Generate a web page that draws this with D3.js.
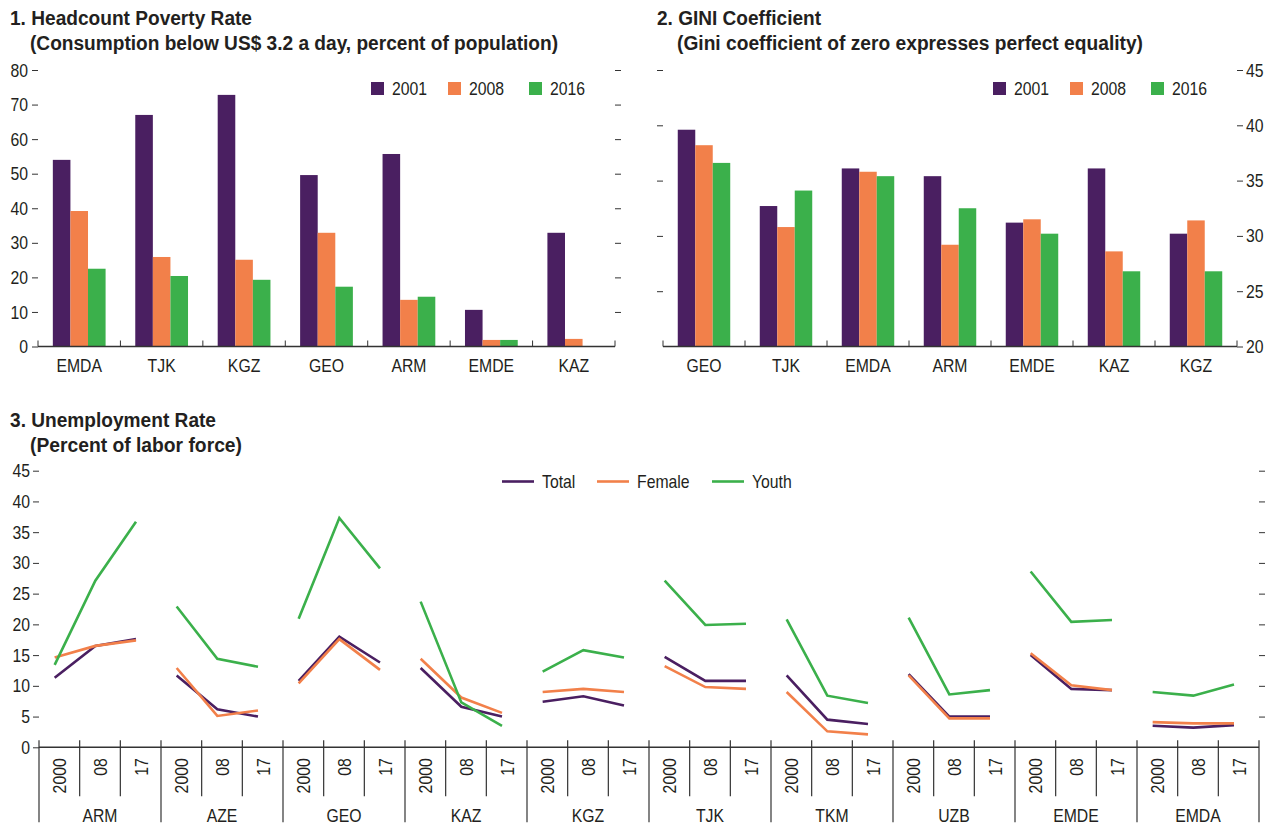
<!DOCTYPE html>
<html><head><meta charset="utf-8">
<script src="https://cdn.jsdelivr.net/npm/d3@7"></script>
<style>
body{margin:0;background:#fff;}
svg text{font-family:'Liberation Sans',Arial,sans-serif;fill:#231f20;}
</style></head>
<body><svg id="c" width="1273" height="825"></svg>
<script>
// ---------- DATA ----------
const years1 = ["2001","2008","2016"];
const povCats = ["EMDA","TJK","KGZ","GEO","ARM","EMDE","KAZ"];
const pov2001 = [54.0,67.0,72.8,49.6,55.7,10.6,32.9];
const pov2008 = [39.2,25.9,25.1,32.9,13.5,1.9,2.2];
const pov2016 = [22.5,20.4,19.3,17.3,14.4,1.9,0.1];
const povTicks = [0,10,20,30,40,50,60,70,80];

const giniCats = ["GEO","TJK","EMDA","ARM","EMDE","KAZ","KGZ"];
const gini2001 = [39.6,32.7,36.1,35.4,31.2,36.1,30.2];
const gini2008 = [38.2,30.8,35.8,29.2,31.5,28.6,31.4];
const gini2016 = [36.6,34.1,35.4,32.5,30.2,26.8,26.8];
const giniTicks = [20,25,30,35,40,45];

const unCountries = ["ARM","AZE","GEO","KAZ","KGZ","TJK","TKM","UZB","EMDE","EMDA"];
const unYears = ["2000","08","17"];
const unTotal = [[11.3,16.5,17.6],[11.7,6.2,5.0],[10.8,18.0,13.8],[12.9,6.6,5.0],[7.4,8.3,6.8],[14.7,10.8,10.8],[11.7,4.5,3.8],[11.9,5.0,5.0],[15.0,9.5,9.3],[3.5,3.2,3.6]];
const unFemale = [[14.6,16.5,17.4],[12.9,5.1,6.0],[10.4,17.6,12.6],[14.4,8.1,5.6],[9.0,9.5,9.0],[13.2,9.8,9.5],[9.0,2.6,2.1],[11.7,4.7,4.7],[15.3,10.1,9.3],[4.1,3.9,3.9]];
const unYouth = [[13.4,27.1,36.7],[22.9,14.4,13.1],[20.9,37.3,29.1],[23.7,7.3,3.5],[12.3,15.8,14.6],[27.1,19.9,20.1],[20.8,8.4,7.2],[21.1,8.6,9.3],[28.6,20.4,20.7],[9.0,8.4,10.2]];
const unTicks = [0,5,10,15,20,25,30,35,40,45];
const unSeries = ["Total","Female","Youth"];

const colors = ["#4a1f61","#f2804a","#3bb04b"];
const axisCol = "#333";

const svg = d3.select("#c");
const FS = 19;
const K = 0.83;

function title(x, y, l1, w1, l2, w2){
  svg.append("text").attr("x",x).attr("y",y).attr("font-size",20).attr("font-weight","bold")
    .attr("class","ttl").attr("textLength",w1).attr("lengthAdjust","spacingAndGlyphs").text(l1);
  svg.append("text").attr("x",x+20).attr("y",y+25).attr("font-size",20).attr("font-weight","bold")
    .attr("class","ttl").attr("textLength",w2).attr("lengthAdjust","spacingAndGlyphs").text(l2);
}

function styleAxis(g){
  g.select(".domain").remove();
  g.selectAll(".tick line").attr("stroke",axisCol).attr("stroke-width",1);
  g.selectAll(".tick text").attr("font-size",FS).attr("fill","#231f20")
   .style("font-family","'Liberation Sans',Arial,sans-serif");
}

function barPanel(cats, series, domain, ticks, xr, yr, leftLabels, rightLabels, legendX){
  const x0 = d3.scaleBand().domain(cats).range(xr);
  const x1 = d3.scaleBand().domain(years1).range([x0.bandwidth()*0.18, x0.bandwidth()*0.82]);
  const y = d3.scaleLinear().domain(domain).range(yr);
  const gl = svg.append("g").attr("transform",`translate(${xr[0]},0)`)
    .call(d3.axisLeft(y).tickValues(leftLabels ? ticks : ticks.slice(1)).tickSize(6).tickPadding(4).tickFormat(leftLabels? d3.format("d") : ()=>""));
  styleAxis(gl);
  const gr = svg.append("g").attr("transform",`translate(${xr[1]},0)`)
    .call(d3.axisRight(y).tickValues(rightLabels ? ticks : ticks.slice(1)).tickSize(6).tickPadding(3).tickFormat(rightLabels? d3.format("d") : ()=>""));
  styleAxis(gr);
  series.forEach((vals,si)=>{
    svg.append("g").selectAll("rect").data(cats).join("rect")
      .attr("x",c=>x0(c)+x1(years1[si]))
      .attr("width",x1.bandwidth())
      .attr("y",(c,i)=>y(vals[i]))
      .attr("height",(c,i)=>y(domain[0])-y(vals[i]))
      .attr("fill",colors[si]);
  });
  const y0 = y(domain[0]);
  svg.append("line").attr("x1",xr[0]).attr("x2",xr[1]).attr("y1",y0).attr("y2",y0).attr("stroke",axisCol).attr("stroke-width",1.5);
  const bounds = cats.map(c=>x0(c)).concat([xr[1]]);
  svg.append("g").selectAll("line").data(bounds).join("line")
    .attr("x1",d=>d).attr("x2",d=>d).attr("y1",y0).attr("y2",y0-6).attr("stroke",axisCol).attr("stroke-width",1);
  svg.append("g").selectAll("text").data(cats).join("text")
    .attr("x",c=>x0(c)+x0.bandwidth()/2).attr("y",y0+25).attr("text-anchor","middle").attr("font-size",FS).text(c=>c);
  const lg = svg.append("g");
  const offs = [0, 77, 158];
  years1.forEach((yr_,i)=>{
    lg.append("rect").attr("x",legendX+offs[i]).attr("y",82).attr("width",13).attr("height",13).attr("fill",colors[i]);
    lg.append("text").attr("x",legendX+offs[i]+21).attr("y",95).attr("font-size",FS).text(yr_);
  });
}

title(10, 25, "1. Headcount Poverty Rate", 242, "(Consumption below US$ 3.2 a day, percent of population)", 528);
barPanel(povCats, [pov2001,pov2008,pov2016], [0,80], povTicks, [38,615], [346.5,70], true, false, 371);

title(657, 25, "2. GINI Coefficient", 164, "(Gini coefficient of zero expresses perfect equality)", 466);
barPanel(giniCats, [gini2001,gini2008,gini2016], [20,45], giniTicks, [663,1237], [346.5,70], false, true, 993);

// ---------- Panel 3 ----------
title(10, 427, "3. Unemployment Rate", 206, "(Percent of labor force)", 212);
const xo = d3.scaleBand().domain(unCountries).range([39,1259]);
const xi = d3.scaleBand().domain(unYears).range([0, xo.bandwidth()]);
const y3 = d3.scaleLinear().domain([0,45]).range([747.3,470.7]);
const gl3 = svg.append("g").attr("transform","translate(39,0)")
  .call(d3.axisLeft(y3).tickValues(unTicks).tickSize(6).tickPadding(3).tickFormat(d3.format("d")));
styleAxis(gl3);
const gr3 = svg.append("g").attr("transform","translate(1259,0)")
  .call(d3.axisRight(y3).tickValues(unTicks.slice(1)).tickSize(6).tickFormat(()=>""));
styleAxis(gr3);
const Y0 = y3(0);
svg.append("line").attr("x1",39).attr("x2",1259).attr("y1",Y0).attr("y2",Y0).attr("stroke",axisCol).attr("stroke-width",1.5);
const cb = unCountries.map(c=>xo(c)).concat([1259]);
svg.append("g").selectAll("line").data(cb).join("line")
  .attr("x1",d=>d).attr("x2",d=>d).attr("y1",Y0-7).attr("y2",Y0+75).attr("stroke",axisCol).attr("stroke-width",1.2);
const yb = [];
unCountries.forEach(c=>{ unYears.slice(1).forEach(yy=>yb.push(xo(c)+xi(yy))); });
svg.append("g").selectAll("line").data(yb).join("line")
  .attr("x1",d=>d).attr("x2",d=>d).attr("y1",Y0-7).attr("y2",Y0+49).attr("stroke",axisCol).attr("stroke-width",1.2);
const yl = [];
unCountries.forEach(c=>unYears.forEach(yy=>yl.push({x:xo(c)+xi(yy)+xi.bandwidth()/2, t:yy})));
svg.append("g").selectAll("text").data(yl).join("text")
  .attr("transform",d=>`translate(${d.x},${Y0+11}) rotate(-90)`)
  .attr("text-anchor","end").attr("dy","0.36em").attr("font-size",FS).text(d=>d.t);
svg.append("g").selectAll("text").data(unCountries).join("text")
  .attr("x",c=>xo(c)+xo.bandwidth()/2).attr("y",822).attr("text-anchor","middle").attr("font-size",FS).text(c=>c);
const line = d3.line().x(d=>d.x).y(d=>y3(d.v));
[unTotal,unFemale,unYouth].forEach((ser,si)=>{
  unCountries.forEach((c,ci)=>{
    const pts = unYears.map((yy,yi)=>({x:xo(c)+xi(yy)+xi.bandwidth()*0.385, v:ser[ci][yi]}));
    svg.append("path").attr("d",line(pts)).attr("fill","none").attr("stroke",colors[si]).attr("stroke-width",2.6);
  });
});
const lx = [502,597,712];
unSeries.forEach((s,i)=>{
  svg.append("line").attr("x1",lx[i]).attr("x2",lx[i]+32).attr("y1",481.5).attr("y2",481.5).attr("stroke",colors[i]).attr("stroke-width",2.6);
  svg.append("text").attr("x",lx[i]+40).attr("y",488).attr("font-size",FS).text(s);
});

// condense non-title text (narrow typeface look)
svg.selectAll("text").filter(function(){ return !this.classList.contains("ttl") && this.textContent.length; })
  .each(function(){
    const L = this.getComputedTextLength();
    this.setAttribute("textLength", (L*K).toFixed(2));
    this.setAttribute("lengthAdjust","spacingAndGlyphs");
  });
</script></body></html>
